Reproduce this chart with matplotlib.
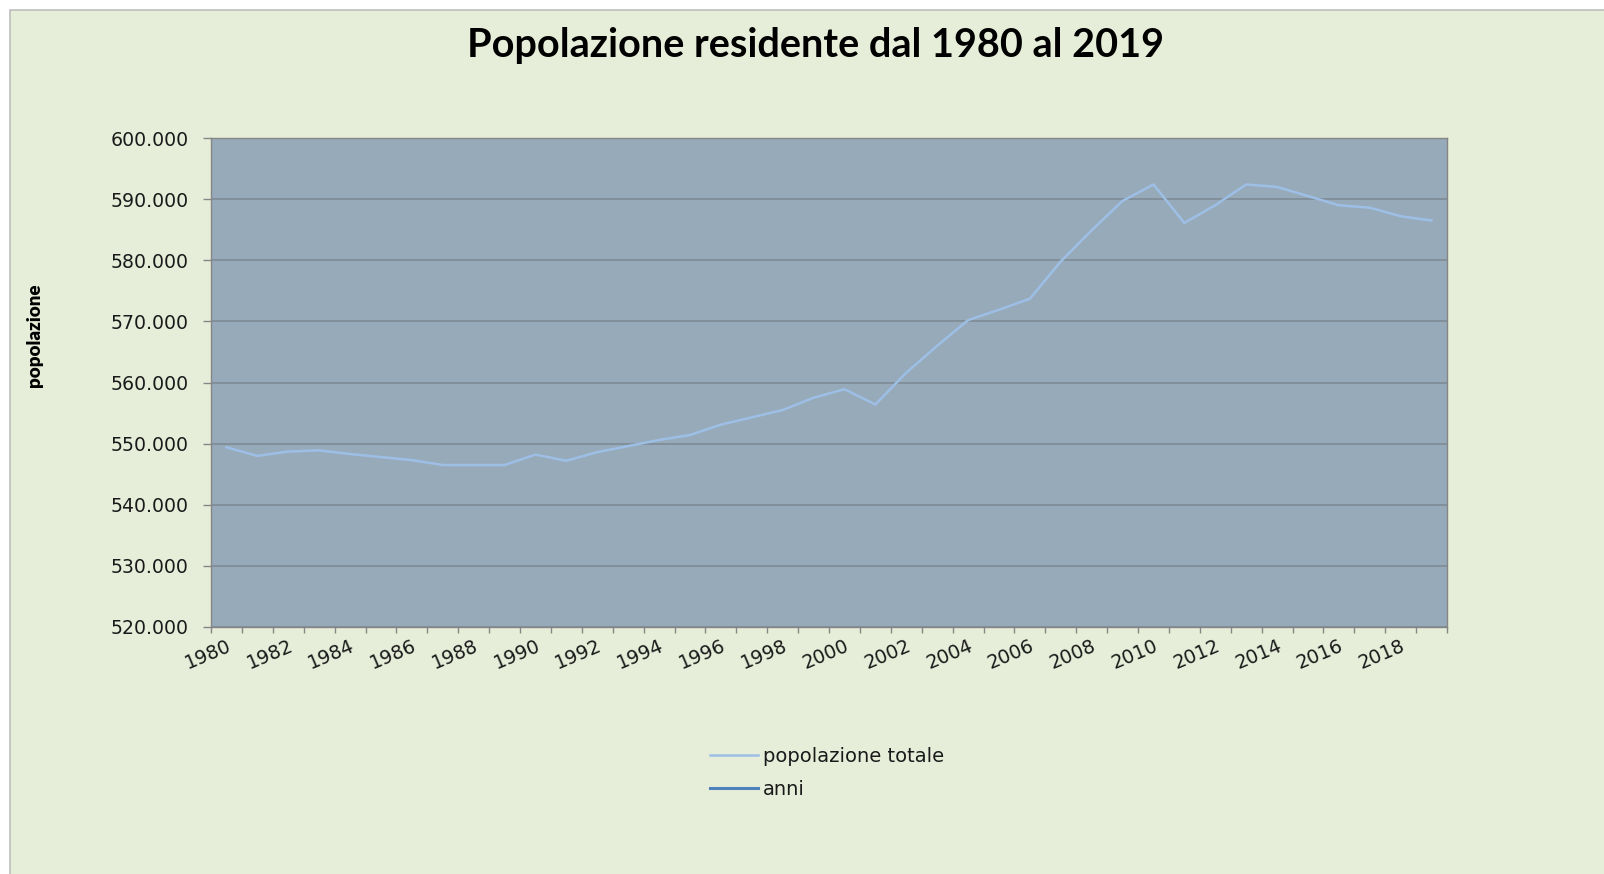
import matplotlib
matplotlib.use("Agg")
import matplotlib.pyplot as plt
from matplotlib.patches import Rectangle
from matplotlib.ticker import FuncFormatter
import numpy as np

# ---- data ----
anni = list(range(1980, 2020))
popolazione_totale = [
    549400, 548000, 548700, 548900, 548300, 547800, 547300, 546500, 546500, 546500,
    548200, 547200, 548600, 549600, 550600, 551400, 553100, 554300, 555500, 557500,
    558900, 556400, 561600, 566000, 570200, 571900, 573700, 579800, 584900, 589700,
    592400, 586100, 589000, 592400, 592000, 590500, 589000, 588600, 587200, 586500,
]
serie_labels = ["popolazione totale", "anni"]
titolo = "Popolazione residente dal 1980 al 2019"
y_label = "popolazione"
y_ticks = [520000, 530000, 540000, 550000, 560000, 570000, 580000, 590000, 600000]

# ---- style ----
BG = "#E6EED9"
PLOT_BG = "#97AAB9"
GRID = "#7E8B97"
LINE1 = "#9DBFE6"
LINE2 = "#4F81BD"
AXIS = "#868686"

W, H = 1604, 874
fig = plt.figure(figsize=(W / 100, H / 100), dpi=100, facecolor="white")
fig.patches.append(Rectangle((10 / W, -0.02), 1.1, (H - 10) / H + 0.02,
                             transform=fig.transFigure, facecolor=BG,
                             edgecolor="#BDBDBD", linewidth=1.2, zorder=-10))

ax = fig.add_axes([211 / W, 1 - 627 / H, (1447 - 211) / W, (627 - 138) / H])
ax.set_facecolor(PLOT_BG)

x = np.arange(len(anni))
ax.plot(x, popolazione_totale, color=LINE1, linewidth=1.8, label=serie_labels[0], zorder=3)
ax.plot(x, anni, color=LINE2, linewidth=2.2, label=serie_labels[1], zorder=3)

ax.set_xlim(-0.5, len(anni) - 0.5)
ax.set_ylim(y_ticks[0], y_ticks[-1])
ax.set_yticks(y_ticks)
ax.yaxis.set_major_formatter(FuncFormatter(lambda v, p: f"{int(v):,}".replace(",", ".")))
ax.grid(axis="y", color=GRID, linewidth=1.2)
ax.set_axisbelow(True)

for s in ax.spines.values():
    s.set_color(AXIS)
    s.set_linewidth(1.0)

ax.tick_params(axis="y", direction="out", length=6, width=1, color=AXIS, pad=10,
               labelsize=13.6, labelcolor="#1a1a1a")

ax.set_xticks(x[::2])
ax.set_xticklabels([str(a) for a in anni[::2]], rotation=23, ha="right", va="top",
                   rotation_mode="anchor", fontsize=13.8, color="#1a1a1a")
ax.set_xticks(np.arange(-0.5, len(anni), 1), minor=True)
ax.tick_params(axis="x", which="major", length=0, pad=6.5)
ax.tick_params(axis="x", which="minor", length=4, width=1, color=AXIS, direction="out")

fig.text(816 / W, 1 - 45 / H, titolo, ha="center", va="center",
         fontsize=28.5, fontweight="bold", family="Lato", color="black")
fig.text(34 / W, 1 - 335 / H, y_label, ha="center", va="center", rotation=90,
         fontsize=13.5, fontweight="heavy", family="Lato", color="black")

leg = fig.legend(loc="upper left", bbox_to_anchor=(692 / W, 1 - 729 / H),
                 frameon=False, fontsize=14, handlelength=2.5, handletextpad=0.25,
                 labelspacing=0.75, labelcolor="#1a1a1a")

fig.savefig("out.png", dpi=100, facecolor=fig.get_facecolor())
